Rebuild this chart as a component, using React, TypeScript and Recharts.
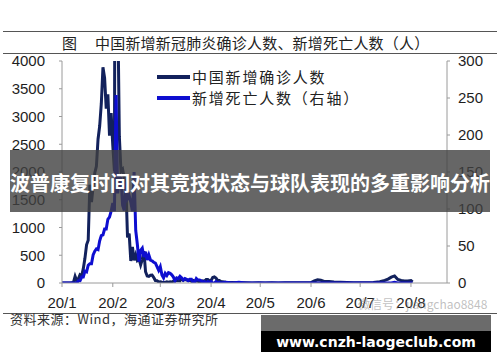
import React from 'react';
import { LineChart, Line, XAxis, YAxis, Legend } from 'recharts';

// x = days from 20/1 on the chart's own axis
const days = [
  0, 3, 5,
  7, 8, 9, 10, 11, 12, 13, 14, 15, 16,
  17, 18, 19, 20, 21, 22, 23, 24, 25, 26,
  27, 28, 29, 30, 31, 32, 33, 34, 35, 36,
  37, 38, 39, 40, 41, 42, 43, 44, 45, 46,
  47, 48, 49, 50, 51, 52, 53, 54, 55, 56,
  57, 58, 59, 60, 61, 62, 63, 64, 65, 66,
  67, 68, 69, 70, 71, 72, 73, 74, 75, 76,
  77, 78, 79, 80, 81, 82, 83, 84, 85, 86,
  87, 88, 89, 90, 91, 92, 93, 94, 95, 96, 97,
  100, 104, 108, 112, 116, 120, 124, 128, 132, 136, 140, 144, 148, 152,
  154, 156, 158, 160, 163, 166, 170, 174, 178, 182, 186, 190, 194, 197,
  199, 201, 203, 205, 207, 209, 211, 213, 214,
];

// 中国新增确诊人数 (left axis)
const confirmedCases = [
  0, 0, 2,
  10, 120, 40, 77, 149, 131, 259, 444, 688, 769,
  1771, 1459, 1737, 1982, 2102, 2590, 2829, 3235, 3887, 3694,
  3143, 3399, 2656, 3062, 2478, 2015, 15152, 5090, 2641, 2009,
  2048, 1886, 1749, 820, 889, 397, 648, 409, 508, 406,
  433, 327, 427, 573, 202, 125, 119, 139, 143, 99,
  44, 40, 19, 24, 15, 8, 11, 20, 16, 21,
  13, 34, 39, 41, 46, 39, 78, 47, 67, 55,
  54, 45, 31, 48, 36, 35, 31, 19, 30, 39,
  32, 62, 63, 42, 46, 99, 108, 89, 46, 46, 26,
  12, 10, 6, 3, 2, 3, 2, 4, 2, 5, 3, 6, 4, 8,
  36, 57, 49, 28, 25, 17, 12, 8, 5, 4, 6, 11, 22, 46,
  70, 105, 127, 64, 45, 36, 37, 44, 19,
];

// 新增死亡人数 (right axis)
const newDeaths = [
  0, 0, 0,
  0, 0, 0, 3, 3, 8, 8, 16, 15, 24,
  26, 26, 38, 43, 46, 45, 57, 64, 65, 73,
  73, 86, 89, 97, 108, 97, 254, 121, 143, 142,
  105, 98, 136, 114, 118, 109, 97, 150, 71, 52,
  29, 44, 47, 35, 42, 31, 38, 31, 30, 28,
  27, 22, 17, 22, 11, 7, 13, 10, 14, 13,
  11, 8, 3, 7, 6, 9, 7, 4, 6, 5,
  3, 5, 5, 1, 1, 6, 4, 4, 3, 1,
  2, 0, 2, 1, 2, 0, 0, 2, 0, 1, 0,
  1, 0, 1, 0, 0, 0, 0, 0, 0, 0, 0, 0, 0, 0,
  0, 0, 0, 0, 0, 0, 0, 0, 0, 0, 0, 0, 0, 0,
  0, 0, 1, 0, 0, 0, 0, 0, 0,
];

const monthTicks = [0, 31, 60, 91, 121, 152, 182, 213];
const monthLabels = ['20/1', '20/2', '20/3', '20/4', '20/5', '20/6', '20/7', '20/8'];
const leftTicks = [0, 500, 1000, 1500, 2000, 2500, 3000, 3500, 4000];
const rightTicks = [0, 50, 100, 150, 200, 250, 300];

const chartData = days.map((day, i) => ({
  day,
  confirmed: confirmedCases[i],
  deaths: newDeaths[i],
}));

const cjk = '"Noto Sans CJK SC", sans-serif';
const latin = '"Liberation Sans", Arial, sans-serif';
const axisGray = '#9a9a9a';
const tickStyle = { fontFamily: latin, fontSize: 15, fill: '#1e1e1e' };

const renderLegend = (props: any) => {
  const { payload } = props;
  return (
    <div style={{ fontFamily: cjk, fontSize: 15, color: '#222', letterSpacing: 1.8 }}>
      {(payload || []).map((entry: any) => (
        <div key={entry.value} style={{ display: 'flex', alignItems: 'center', height: 21.5 }}>
          <svg width={35} height={6} style={{ display: 'block' }}>
            <line x1={0} y1={3} x2={33} y2={3} stroke={entry.color} strokeWidth={4} />
          </svg>
          <span style={{ lineHeight: '18px' }}>{entry.value}</span>
        </div>
      ))}
    </div>
  );
};

const rule = (top: number) => (
  <div style={{ position: 'absolute', left: 3, top, width: 494, height: 1, background: '#555' }} />
);

export default function App() {
  return (
    <div style={{ position: 'absolute', left: 0, top: 0, width: 500, height: 362, background: '#fff', overflow: 'hidden' }}>
      <LineChart width={500} height={362} data={chartData} margin={{ top: 61, right: 0, bottom: 0, left: 0 }}>
        <XAxis
          type="number"
          dataKey="day"
          domain={[0, 235]}
          ticks={monthTicks}
          interval={0}
          tickFormatter={(v: number) => monthLabels[monthTicks.indexOf(v)]}
          height={79}
          tickSize={4}
          tickMargin={10}
          tick={tickStyle}
          stroke={axisGray}
        />
        <YAxis
          yAxisId="left"
          orientation="left"
          domain={[0, 4000]}
          ticks={leftTicks}
          interval={0}
          allowDataOverflow
          width={62}
          tickSize={3}
          tickMargin={14}
          tick={tickStyle}
          stroke={axisGray}
        />
        <YAxis
          yAxisId="right"
          orientation="right"
          domain={[0, 300]}
          ticks={rightTicks}
          interval={0}
          allowDataOverflow
          width={53}
          tickSize={3}
          tickMargin={8}
          tick={tickStyle}
          stroke={axisGray}
        />
        <Legend
          layout="vertical"
          align="center"
          verticalAlign="middle"
          content={renderLegend}
          wrapperStyle={{ left: 157, top: 66, width: 240 }}
        />
        <Line
          yAxisId="left"
          dataKey="confirmed"
          name="中国新增确诊人数"
          stroke="#12215c"
          strokeWidth={3}
          dot={false}
          type="linear"
          isAnimationActive={false}
        />
        <Line
          yAxisId="right"
          dataKey="deaths"
          name="新增死亡人数（右轴）"
          stroke="#0e0ed0"
          strokeWidth={3}
          dot={false}
          type="linear"
          isAnimationActive={false}
        />
      </LineChart>

      {rule(31)}
      {rule(53)}
      {rule(313)}

      <div style={{ position: 'absolute', left: 62, top: 35, fontFamily: cjk, fontSize: 15, lineHeight: '16px', color: '#222', whiteSpace: 'nowrap' }}>
        <span>图</span>
        <span style={{ marginLeft: 18, letterSpacing: 0.2 }}>中国新增新冠肺炎确诊人数、新增死亡人数（人）</span>
      </div>

      <div style={{ position: 'absolute', left: 358, top: 297, fontFamily: cjk, fontSize: 12, lineHeight: '14px', color: 'rgba(140,140,140,0.55)', whiteSpace: 'nowrap' }}>
        微信号：jiangchao8848
      </div>

      <div style={{ position: 'absolute', left: 10, top: 311, fontFamily: cjk, fontSize: 13, lineHeight: '16px', color: '#333', letterSpacing: 0.5, whiteSpace: 'nowrap' }}>
        资料来源：Wind，海通证券研究所
      </div>

      <div style={{ position: 'absolute', left: 10, top: 150, width: 480, height: 62, background: 'rgba(64,64,64,0.8)' }}>
        <div style={{ position: 'absolute', left: 0, top: 22, width: 480, textAlign: 'center', fontFamily: cjk, fontWeight: 700, fontSize: 20, lineHeight: '22px', color: '#fff', whiteSpace: 'nowrap' }}>
          波普康复时间对其竞技状态与球队表现的多重影响分析
        </div>
      </div>

      <div style={{ position: 'absolute', left: 261, top: 315, width: 230, height: 37, background: '#000' }}>
        <div style={{ position: 'absolute', left: 0, top: 0, width: 230, height: 16, background: '#6b6b6b' }} />
        <div style={{ position: 'absolute', left: 0, top: 17, width: 230, textAlign: 'center', fontFamily: '"DejaVu Sans", sans-serif', fontWeight: 700, fontSize: 14, lineHeight: '20px', color: '#fff', whiteSpace: 'nowrap' }}>
          www.cnzh-laogeclub.com
        </div>
      </div>
    </div>
  );
}
